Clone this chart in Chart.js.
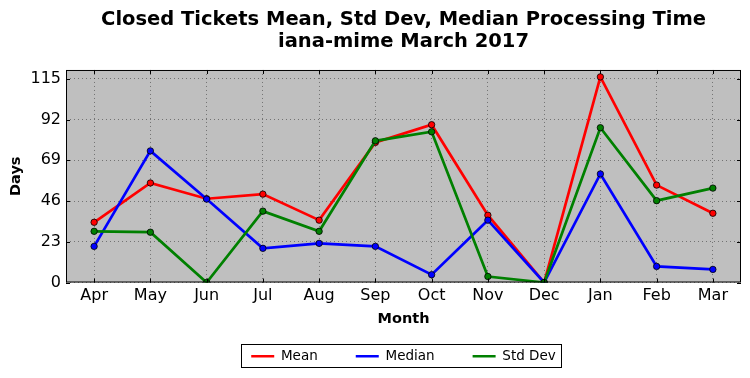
<!DOCTYPE html>
<html><head><meta charset="utf-8">
<script src="https://cdn.jsdelivr.net/npm/chart.js@4/dist/chart.umd.min.js"></script>
<style>html,body{margin:0;padding:0;background:#fff}</style>
</head><body>
<canvas id="c" width="750" height="378"></canvas>
<script>
const months = ['Apr','May','Jun','Jul','Aug','Sep','Oct','Nov','Dec','Jan','Feb','Mar'];
const meanDays = [34.0, 56.2, 47.3, 49.9, 35.2, 79.1, 89.1, 38.0, 0, 116.1, 55.0, 39.1];
const medianDays = [20.4, 74.3, 47.1, 19.3, 22.1, 20.4, 4.4, 35.2, 0, 61.3, 9.1, 7.4];
const stdDevDays = [28.9, 28.4, 0, 40.3, 28.9, 80.0, 85.1, 3.4, 0, 87.4, 46.2, 53.3];
const yTicks = [0, 23, 46, 69, 92, 115];
const titleLines = ['Closed Tickets Mean, Std Dev, Median Processing Time', 'iana-mime March 2017'];

Chart.defaults.font.family = "'DejaVu Sans', sans-serif";
Chart.defaults.color = '#000';

const bgPlugin = {
  id: 'bg',
  beforeDraw(chart) {
    const a = chart.chartArea, ctx = chart.ctx;
    ctx.save(); ctx.fillStyle = '#bfbfbf';
    ctx.fillRect(a.left, a.top, a.right - a.left, a.bottom - a.top);
    ctx.restore();
  }
};
const framePlugin = {
  id: 'frame',
  afterDatasetsDraw(chart) {
    const a = chart.chartArea, ctx = chart.ctx;
    ctx.save();
    ctx.strokeStyle = '#000'; ctx.lineWidth = 1;
    ctx.strokeRect(a.left + 0.5, a.top + 0.5, a.right - a.left - 1, a.bottom - a.top - 1);
    const L = 4;
    ctx.beginPath();
    const xs = chart.scales.x;
    xs.ticks.forEach((t, i) => {
      const px = Math.round(xs.getPixelForTick(i)) + 0.5;
      ctx.moveTo(px, a.bottom); ctx.lineTo(px, a.bottom - L);
      ctx.moveTo(px, a.top); ctx.lineTo(px, a.top + L);
    });
    const ys = chart.scales.y;
    ys.ticks.forEach((t) => {
      const py = Math.round(ys.getPixelForValue(t.value)) + 0.5;
      ctx.moveTo(a.left, py); ctx.lineTo(a.left + L, py);
      ctx.moveTo(a.right, py); ctx.lineTo(a.right - L, py);
    });
    ctx.stroke();
    ctx.restore();
  },
  afterDraw(chart) {
    const lg = chart.legend;
    if (!lg || !lg.legendHitBoxes || !lg.legendHitBoxes.length) return;
    const hb = lg.legendHitBoxes;
    let l = Infinity, r = -Infinity, cy = 0;
    hb.forEach(h => { l = Math.min(l, h.left); r = Math.max(r, h.left + h.width); cy = h.top + h.height / 2; });
    const ctx = chart.ctx;
    ctx.save();
    ctx.strokeStyle = '#000'; ctx.lineWidth = 1;
    ctx.strokeRect(Math.round(l - 10) + 0.5, Math.round(cy - 12) + 0.5, Math.round(r - l + 15), 23);
    ctx.restore();
  }
};

const mk = (label, data, color, order) => ({
  label, data, order,
  borderColor: color, backgroundColor: color,
  borderWidth: 2.7,
  pointRadius: 3.2, pointHoverRadius: 3.2,
  pointBackgroundColor: color, pointBorderColor: '#000', pointBorderWidth: 0.8,
  tension: 0, fill: false
});

new Chart(document.getElementById('c'), {
  type: 'line',
  data: {
    labels: months,
    datasets: [
      mk('Mean', meanDays, '#ff0000', 2),
      mk('Median', medianDays, '#0000ff', 1),
      mk('Std Dev', stdDevDays, '#008000', 0)
    ]
  },
  options: {
    responsive: false,
    animation: false,
    events: [],
    layout: { padding: { top: 0, left: 0, right: 9, bottom: 5 } },
    plugins: {
      title: {
        display: true, text: titleLines, fullSize: false,
        font: { size: 19.5, weight: 'bold', lineHeight: 1.12 },
        padding: { top: 9, bottom: 17.3 }, color: '#000'
      },
      legend: {
        position: 'bottom', fullSize: false,
        labels: {
          usePointStyle: true, pointStyle: 'line', pointStyleWidth: 23,
          font: { size: 13.5 }, padding: 38, color: '#000',
          sort: (a, b) => a.datasetIndex - b.datasetIndex,
          generateLabels: (chart) => {
            const items = Chart.defaults.plugins.legend.labels.generateLabels(chart);
            items.forEach(it => {
              const ds = chart.data.datasets[it.datasetIndex];
              it.strokeStyle = ds.borderColor;
              it.fillStyle = ds.borderColor;
              it.lineWidth = 2.5;
              it.pointStyle = 'line';
            });
            return items;
          }
        }
      },
      tooltip: { enabled: false }
    },
    scales: {
      x: {
        offset: true,
        grid: { display: true, color: 'rgba(0,0,0,0.4)', lineWidth: 1, drawTicks: false, offset: false },
        border: { display: false, dash: [1, 3] },
        ticks: { font: { size: 16 }, padding: 4, color: '#000', maxRotation: 0, autoSkip: false },
        title: { display: true, text: 'Month', font: { size: 14.5, weight: 'bold' }, padding: { top: 0, bottom: -16.2 }, color: '#000' },
        afterFit: (axis) => { axis.height = 29; }
      },
      y: {
        min: 0, max: 120,
        afterBuildTicks: (axis) => { axis.ticks = yTicks.map(v => ({ value: v })); },
        grid: { display: true, color: 'rgba(0,0,0,0.4)', lineWidth: 1, drawTicks: false },
        border: { display: false, dash: [1, 3] },
        ticks: { font: { size: 16 }, padding: 5, color: '#000' },
        title: { display: true, text: 'Days', font: { size: 14.5, weight: 'bold' }, padding: { top: 7.2, bottom: 0 }, color: '#000' },
        afterFit: (axis) => { axis.width = 66; }
      }
    }
  },
  plugins: [bgPlugin, framePlugin]
});
</script>
</body></html>
